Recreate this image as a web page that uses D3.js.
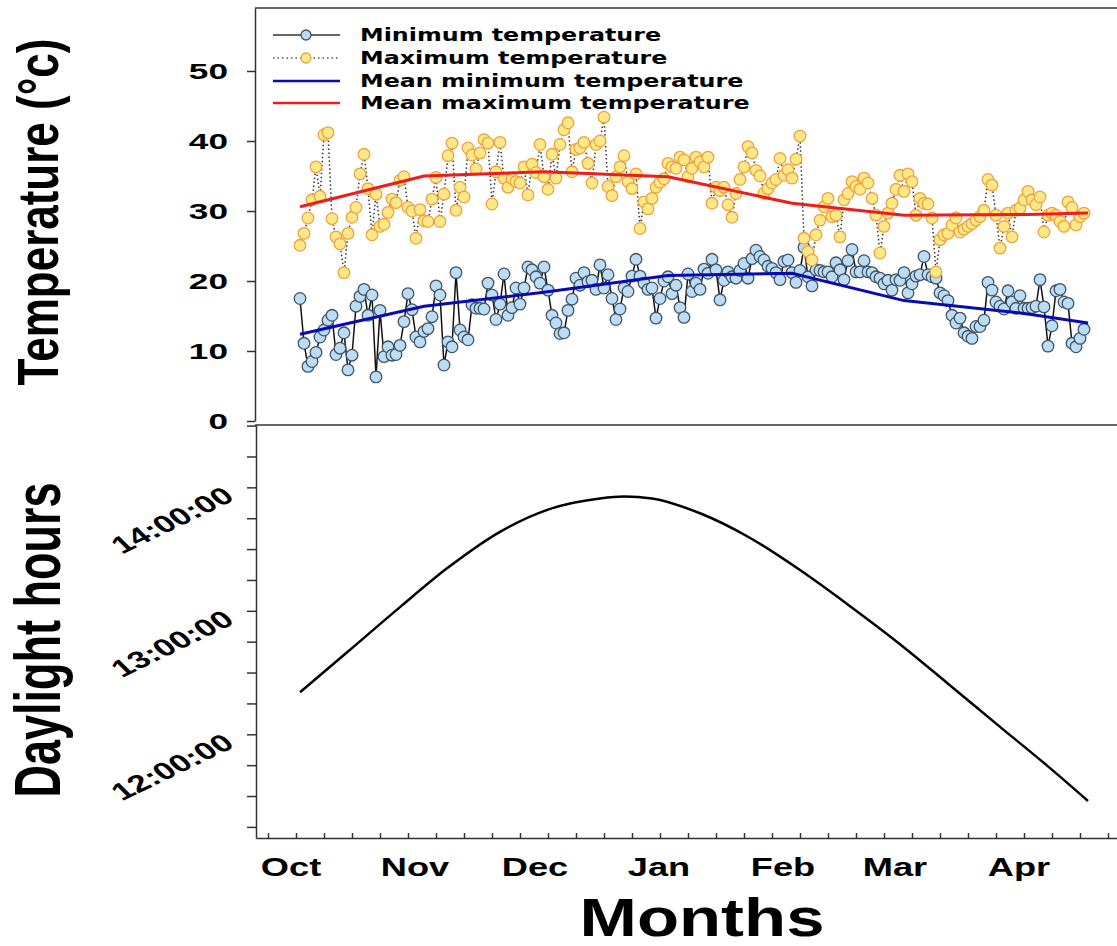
<!DOCTYPE html>
<html>
<head>
<meta charset="utf-8">
<script src="https://cdn.jsdelivr.net/npm/d3@7"></script>
<style>
    body { margin: 0; background: white; }
</style>
</head>
<body>
<svg id="chart"></svg>
<script>

// daily values, day 0 = 1 October
var minTemp = [17.5, 11.1, 7.8, 8.5, 9.8, 12.0, 13.0, 14.4, 15.1, 9.5,
    10.4, 12.6, 7.3, 9.4, 16.4, 17.8, 18.8, 15.1, 18.0, 6.3,
    15.8, 9.2, 10.6, 9.4, 9.5, 10.8, 14.2, 18.2, 15.9, 12.0,
    11.3, 12.8, 13.2, 14.9, 19.3, 18.0, 8.0, 11.3, 10.6, 21.2,
    13.0, 12.0, 11.6, 16.6, 16.1, 16.1, 16.0, 19.7, 18.0, 14.5,
    16.7, 21.0, 15.1, 16.2, 19.0, 16.7, 19.0, 22.0, 21.6, 20.6,
    19.7, 22.0, 18.7, 15.1, 14.0, 12.5, 12.6, 15.8, 17.4, 20.4,
    19.4, 21.2, 19.9, 20.1, 18.8, 22.3, 19.0, 20.9, 17.5, 14.5,
    16.0, 19.0, 18.5, 20.7, 23.1, 20.7, 19.7, 18.8, 19.0, 14.7,
    17.5, 20.0, 20.6, 18.2, 19.4, 16.2, 14.8, 21.0, 18.5, 19.7,
    18.8, 21.7, 21.1, 23.1, 21.6, 17.3, 20.1, 21.3, 20.6, 20.4,
    21.5, 22.5, 20.4, 23.2, 24.4, 23.5, 23.0, 22.1, 21.8, 21.2,
    20.2, 22.8, 23.0, 21.2, 19.8, 21.5, 24.8, 20.6, 19.3, 21.6,
    21.5, 21.3, 21.3, 20.6, 22.6, 21.6, 20.2, 22.9, 24.5, 21.3,
    21.3, 22.9, 21.3, 21.2, 20.6, 20.4, 19.6, 20.1, 18.7, 20.2,
    20.1, 21.2, 18.3, 19.6, 20.7, 20.9, 23.5, 20.9, 20.6, 20.4,
    18.3, 17.9, 17.2, 15.1, 14.0, 14.7, 12.6, 12.1, 11.8, 13.5,
    13.5, 14.4, 19.8, 18.7, 17.0, 16.4, 16.0, 18.6, 17.0, 16.1,
    17.9, 16.1, 16.1, 16.2, 16.4, 20.2, 16.3, 10.7, 13.6, 18.6,
    18.8, 17.0, 16.8, 11.1, 10.6, 11.8, 13.1];

var maxTemp = [25.1, 26.8, 29.0, 31.6, 36.3, 32.1, 40.9, 41.2, 28.9, 26.3,
    25.3, 21.2, 26.8, 29.1, 30.5, 35.3, 38.1, 33.2, 26.6, 32.4,
    27.8, 28.1, 29.8, 31.7, 31.2, 34.4, 34.9, 30.5, 30.0, 26.1,
    30.2, 28.6, 28.5, 31.7, 34.8, 28.5, 32.4, 37.9, 39.7, 30.1,
    33.4, 32.0, 39.0, 38.0, 36.0, 38.3, 40.2, 39.7, 31.0, 35.6,
    39.8, 34.7, 33.4, 34.6, 34.2, 34.0, 36.3, 32.3, 36.7, 35.5,
    39.5, 34.9, 33.1, 38.1, 34.7, 39.5, 41.6, 42.6, 35.6, 38.8,
    39.0, 39.8, 36.8, 34.0, 39.5, 40.0, 43.4, 33.5, 32.2, 34.9,
    36.3, 37.9, 34.2, 33.2, 35.3, 27.5, 31.3, 30.3, 31.8, 33.4,
    34.1, 34.6, 36.8, 36.3, 36.1, 37.7, 37.3, 34.9, 36.1, 37.7,
    37.0, 36.3, 37.7, 31.1, 33.4, 32.9, 33.4, 30.9, 29.1, 32.5,
    34.5, 36.3, 39.2, 38.3, 35.8, 35.0, 32.5, 33.2, 34.0, 34.5,
    37.5, 35.1, 35.9, 34.7, 37.4, 40.7, 26.1, 24.2, 23.0, 26.6,
    28.7, 30.6, 31.8, 29.2, 29.4, 26.3, 31.6, 32.5, 34.2, 33.5,
    33.1, 34.7, 34.0, 31.8, 29.4, 24.0, 27.8, 29.7, 31.1, 33.1,
    35.1, 32.8, 35.3, 34.2, 29.4, 31.8, 31.1, 31.0, 29.0, 21.3,
    25.9, 26.6, 26.8, 28.0, 29.0, 27.0, 27.4, 27.8, 28.2, 28.7,
    29.2, 30.1, 34.5, 33.7, 29.4, 24.7, 27.8, 29.7, 26.3, 30.1,
    30.4, 31.6, 32.8, 31.6, 30.9, 32.0, 27.0, 29.4, 29.7, 29.4,
    28.5, 27.8, 31.3, 30.5, 28.0, 29.2, 29.7];

// monthly means, placed at the start of each month
var meanDays = [0, 31, 61, 92, 123, 151, 182, 197];
var meanMinTemp = [12.4, 16.4, 18.4, 20.8, 21.1, 17.2, 15.3, 14.0];
var meanMaxTemp = [30.6, 35.0, 35.6, 34.9, 31.1, 29.4, 29.5, 29.7];

// daylight length in hours
var daylightDays = [0, 12, 25, 37, 50, 62, 75, 81, 88, 100, 112, 125, 137, 150, 162, 175, 187, 197];
var daylightHours = [12.34, 12.67, 13.03, 13.35, 13.64, 13.82, 13.91, 13.925, 13.91,
    13.79, 13.60, 13.33, 13.05, 12.73, 12.41, 12.06, 11.74, 11.46];

var monthNames = ["Oct", "Nov", "Dec", "Jan", "Feb", "Mar", "Apr"];
var monthStartDays = [0, 31, 61, 92, 123, 151, 182];
var tempTicks = [0, 10, 20, 30, 40, 50];
var hourTicks = [12, 13, 14];
var hourLabels = ["12:00:00", "13:00:00", "14:00:00"];
var legendLabels = ["Minimum temperature", "Maximum temperature",
    "Mean minimum temperature", "Mean maximum temperature"];


// text that is stretched sideways like the original figure
var addText = function(g, str, x, y, opts)
{
    return g.append("text")
        .text(str)
        .attr("text-anchor", opts.anchor || "middle")
        .style("font-family", opts.family || "'Liberation Sans', Arial, sans-serif")
        .style("font-weight", "bold")
        .style("font-size", opts.size + "px")
        .attr("fill", "#000")
        .attr("transform", "translate(" + x + "," + y + ") scale(" + (opts.sx || 1) +
              ",1) rotate(" + (opts.rotate || 0) + ")");
}


var drawChart = function()
{
    var size = {width: 1117, height: 946};

    var svg = d3.select("svg#chart")
        .attr("width", size.width)
        .attr("height", size.height)
        .style("background-color", "white");

    var xScale = d3.scaleLinear()
        .domain([-11, 204.25])
        .range([256, 1117]);

    var yTemp = d3.scaleLinear()
        .domain([0, 59])
        .range([421, 8]);

    var yDay = d3.scaleLinear()
        .domain([11.16, 14.505])
        .range([838, 425]);


    //---------------- top panel: temperatures ----------------
    var tempPanel = svg.append("g").classed("temperature", true);

    tempPanel.append("line")
        .attr("x1", 255).attr("x2", xScale.range()[1])
        .attr("y1", yTemp.range()[1]).attr("y2", yTemp.range()[1])
        .attr("stroke", "#333").attr("stroke-width", 1.5);

    var tempAxis = tempPanel.append("g")
        .attr("transform", "translate(255,0)")
        .call(d3.axisLeft(yTemp).tickValues(tempTicks).tickSize(8).tickSizeOuter(0).tickFormat(""));
    tempAxis.selectAll("path, line").attr("stroke", "#333").attr("stroke-width", 1.5);

    tempTicks.forEach(function(t) {
        addText(tempPanel, t, 228, yTemp(t) + 8, {size: 22, anchor: "end", sx: 1.6});
    });

    var dailyLine = d3.line()
        .x(function(d, i) { return xScale(i); })
        .y(function(d) { return yTemp(d); });

    tempPanel.append("path")
        .datum(minTemp)
        .attr("d", dailyLine)
        .attr("fill", "none")
        .attr("stroke", "#111")
        .attr("stroke-width", 1.5);

    tempPanel.append("path")
        .datum(maxTemp)
        .attr("d", dailyLine)
        .attr("fill", "none")
        .attr("stroke", "#333")
        .attr("stroke-width", 1.5)
        .attr("stroke-dasharray", "1.5,2.5");

    tempPanel.append("g")
        .selectAll("circle")
        .data(minTemp)
        .enter()
        .append("circle")
        .attr("cx", function(d, i) { return xScale(i); })
        .attr("cy", function(d) { return yTemp(d); })
        .attr("r", 5.8)
        .attr("fill", "#bcdcf5")
        .attr("stroke", "#3f5566")
        .attr("stroke-width", 1.3);

    tempPanel.append("g")
        .selectAll("circle")
        .data(maxTemp)
        .enter()
        .append("circle")
        .attr("cx", function(d, i) { return xScale(i); })
        .attr("cy", function(d) { return yTemp(d); })
        .attr("r", 5.8)
        .attr("fill", "#ffe888")
        .attr("stroke", "#eea23e")
        .attr("stroke-width", 1.3);

    var meanLine = d3.line()
        .x(function(d, i) { return xScale(meanDays[i]); })
        .y(function(d) { return yTemp(d); });

    tempPanel.append("path")
        .datum(meanMinTemp)
        .attr("d", meanLine)
        .attr("fill", "none")
        .attr("stroke", "#0a0ab4")
        .attr("stroke-width", 3);

    tempPanel.append("path")
        .datum(meanMaxTemp)
        .attr("d", meanLine)
        .attr("fill", "none")
        .attr("stroke", "#ee1c1c")
        .attr("stroke-width", 3);

    // legend
    var legend = tempPanel.append("g").classed("legend", true);
    var legendRows = [35, 58, 81, 103];

    legendLabels.forEach(function(label, i) {
        var y = legendRows[i];
        var row = legend.append("g");
        var line = row.append("line")
            .attr("x1", 273).attr("x2", 340)
            .attr("y1", y).attr("y2", y);
        if (i == 0) {
            line.attr("stroke", "#333").attr("stroke-width", 1.3);
        } else if (i == 1) {
            line.attr("stroke", "#555").attr("stroke-width", 1.3).attr("stroke-dasharray", "1.5,3");
        } else if (i == 2) {
            line.attr("stroke", "#0a0ab4").attr("stroke-width", 2.5);
        } else {
            line.attr("stroke", "#ee1c1c").attr("stroke-width", 2.5);
        }
        if (i < 2) {
            row.append("circle")
                .attr("cx", 306).attr("cy", y).attr("r", 5)
                .attr("fill", i == 0 ? "#bcdcf5" : "#ffe888")
                .attr("stroke", i == 0 ? "#3f5566" : "#eea23e")
                .attr("stroke-width", 1.3);
        }
        addText(row, label, 360, y + 6, {size: 17, anchor: "start", sx: 1.4,
            family: "'DejaVu Sans', Verdana, sans-serif"});
    });

    addText(svg, "Temperature (\u00b0c)", 58, 212, {size: 44, sx: 1.3, rotate: -90});


    //---------------- bottom panel: daylight ----------------
    var dayPanel = svg.append("g").classed("daylight", true);

    dayPanel.append("line")
        .attr("x1", 255).attr("x2", xScale.range()[1])
        .attr("y1", yDay.range()[1]).attr("y2", yDay.range()[1])
        .attr("stroke", "#333").attr("stroke-width", 1.5);

    var dayAxis = dayPanel.append("g")
        .attr("transform", "translate(256,0)")
        .call(d3.axisLeft(yDay).tickValues(d3.range(11.25, 14.51, 0.25))
              .tickSize(9).tickSizeOuter(0).tickFormat(""));
    dayAxis.selectAll("path, line").attr("stroke", "#333").attr("stroke-width", 1.5);

    var monthAxis = dayPanel.append("g")
        .attr("transform", "translate(0," + yDay.range()[0] + ")")
        .call(d3.axisBottom(xScale).tickValues(d3.range(-8, 205, 7))
              .tickSize(-5).tickSizeOuter(0).tickFormat(""));
    monthAxis.selectAll("path, line").attr("stroke", "#333").attr("stroke-width", 1.5);

    hourTicks.forEach(function(h, i) {
        addText(dayPanel, hourLabels[i], 236, yDay(h) + 12, {size: 24, anchor: "end", sx: 1.45, rotate: -35});
    });

    monthNames.forEach(function(m, i) {
        addText(dayPanel, m, xScale(monthStartDays[i]) - 9, 876, {size: 25, sx: 1.45});
    });

    var dayLine = d3.line()
        .x(function(d, i) { return xScale(daylightDays[i]); })
        .y(function(d) { return yDay(d); })
        .curve(d3.curveMonotoneX);

    dayPanel.append("path")
        .datum(daylightHours)
        .attr("d", dayLine)
        .attr("fill", "none")
        .attr("stroke", "#000")
        .attr("stroke-width", 2.5);

    addText(svg, "Daylight hours", 60, 640, {size: 45, sx: 1.46, rotate: -90});
    addText(svg, "Months", 702, 936, {size: 53, sx: 1.3});
}

drawChart();

</script>
</body>
</html>
